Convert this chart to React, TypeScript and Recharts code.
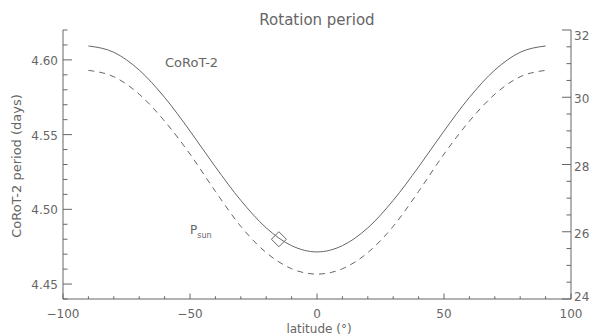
import React from 'react';
import { ComposedChart, Line, Scatter, XAxis, YAxis } from 'recharts';

// Latitude grid (degrees)
const LAT = [-90, -80, -70, -60, -50, -40, -30, -20, -10, 0, 10, 20, 30, 40, 50, 60, 70, 80, 90];
// CoRoT-2 rotation period (days, left axis) – solid line
const COROT_PERIOD = [4.6093, 4.6051, 4.5932, 4.5749, 4.5524, 4.5284, 4.506, 4.4876, 4.4757, 4.4715, 4.4757, 4.4876, 4.506, 4.5284, 4.5524, 4.5749, 4.5932, 4.6051, 4.6093];
// Solar rotation period (days, right axis) – dashed line
const SUN_PERIOD = [30.8, 30.61, 30.09, 29.29, 28.31, 27.2, 26.16, 25.38, 24.9, 24.74, 24.9, 25.38, 26.16, 27.2, 28.31, 29.29, 30.09, 30.61, 30.8];
// Marked point (diamond)
const MARK_LAT = [-15];
const MARK_PERIOD = [4.48];

// Ticks
const X_TICKS = [-100, -90, -80, -70, -60, -50, -40, -30, -20, -10, 0, 10, 20, 30, 40, 50, 60, 70, 80, 90, 100];
const X_LABELS = [-100, -50, 0, 50, 100];
const YL_TICKS = [4.44, 4.45, 4.46, 4.47, 4.48, 4.49, 4.5, 4.51, 4.52, 4.53, 4.54, 4.55, 4.56, 4.57, 4.58, 4.59, 4.6, 4.61, 4.62];
const YL_LABELS = [4.45, 4.5, 4.55, 4.6];
const YR_TICKS = [24, 24.5, 25, 25.5, 26, 26.5, 27, 27.5, 28, 28.5, 29, 29.5, 30, 30.5, 31, 31.5, 32];
const YR_LABELS = [24, 26, 28, 30, 32];

const data = LAT.map((lat, i) => ({ lat, corot: COROT_PERIOD[i], sun: SUN_PERIOD[i] }));
const markData = MARK_LAT.map((lat, i) => ({ lat, p: MARK_PERIOD[i] }));

const AXIS = '#666';
const TXT = '#666';
const LINE = '#666';
const FONT = '"DejaVu Sans", sans-serif';

const isMajor = (v: number, list: number[]) => list.some((m) => Math.abs(m - v) < 1e-6);
const fmt = (v: number) => (v < 0 ? '\u2212' + String(Math.abs(v)) : String(v));

const BottomTick = (props: any) => {
  const { x, y, payload } = props;
  const major = isMajor(payload.value, X_LABELS);
  return (
    <g>
      <line x1={x} x2={x} y1={y} y2={y - (major ? 5.5 : 2.75)} stroke={AXIS} strokeWidth={1} />
      {major && (
        <text x={x} y={y + 19} textAnchor="middle" fill={TXT} fontSize={12} fontFamily={FONT}>
          {fmt(payload.value)}
        </text>
      )}
    </g>
  );
};

const TopTick = (props: any) => {
  const { x, y, payload } = props;
  const major = isMajor(payload.value, X_LABELS);
  return <line x1={x} x2={x} y1={y} y2={y + (major ? 5.5 : 2.75)} stroke={AXIS} strokeWidth={1} />;
};

const LeftTick = (props: any) => {
  const { x, y, payload } = props;
  const major = isMajor(payload.value, YL_LABELS);
  return (
    <g>
      <line x1={x} x2={x + (major ? 9 : 4.5)} y1={y} y2={y} stroke={AXIS} strokeWidth={1} />
      {major && (
        <text x={x - 5} y={y + 5} textAnchor="end" fill={TXT} fontSize={12} fontFamily={FONT}>
          {payload.value.toFixed(2)}
        </text>
      )}
    </g>
  );
};

const RightTick = (props: any) => {
  const { x, y, payload } = props;
  const major = isMajor(payload.value, YR_LABELS);
  const ty = Math.max(y + 6, 40);
  return (
    <g>
      <line x1={x} x2={x - (major ? 9 : 4.5)} y1={y} y2={y} stroke={AXIS} strokeWidth={1} />
      {major && (
        <text x={x + 3} y={Math.min(ty, 301)} textAnchor="start" fill={TXT} fontSize={12} fontFamily={FONT}>
          {String(payload.value)}
        </text>
      )}
    </g>
  );
};

const Diamond = (props: any) => {
  const { cx, cy } = props;
  const r = 7.5;
  return (
    <polygon
      points={`${cx - r},${cy} ${cx},${cy - r} ${cx + r},${cy} ${cx},${cy + r}`}
      fill="none"
      stroke={LINE}
      strokeWidth={1}
    />
  );
};

export default function App() {
  return (
    <div style={{ position: 'absolute', left: 0, top: 0, width: 589, height: 336, background: '#fff' }}>
      <ComposedChart width={589} height={336} data={data} margin={{ top: 30, right: 0, bottom: 0, left: 0 }}>
        <XAxis
          xAxisId="bottom"
          dataKey="lat"
          type="number"
          domain={[-100, 100]}
          ticks={X_TICKS}
          interval={0}
          allowDataOverflow
          orientation="bottom"
          height={37}
          tickSize={0}
          tickMargin={0}
          tickLine={false}
          axisLine={{ stroke: AXIS }}
          tick={<BottomTick />}
        />
        <XAxis
          xAxisId="top"
          dataKey="lat"
          type="number"
          domain={[-100, 100]}
          ticks={X_TICKS}
          interval={0}
          allowDataOverflow
          orientation="top"
          height={0}
          tickSize={0}
          tickMargin={0}
          tickLine={false}
          axisLine={{ stroke: AXIS }}
          tick={<TopTick />}
        />
        <YAxis
          yAxisId="left"
          type="number"
          domain={[4.44, 4.62]}
          ticks={YL_TICKS}
          interval={0}
          allowDataOverflow
          orientation="left"
          width={63}
          tickSize={0}
          tickMargin={0}
          tickLine={false}
          axisLine={{ stroke: AXIS }}
          tick={<LeftTick />}
        />
        <YAxis
          yAxisId="right"
          type="number"
          domain={[24, 32]}
          ticks={YR_TICKS}
          interval={0}
          allowDataOverflow
          orientation="right"
          width={18}
          tickSize={0}
          tickMargin={0}
          tickLine={false}
          axisLine={{ stroke: AXIS }}
          tick={<RightTick />}
        />
        <Line
          xAxisId="bottom"
          yAxisId="left"
          dataKey="corot"
          type="monotone"
          stroke={LINE}
          strokeWidth={1}
          dot={false}
          isAnimationActive={false}
        />
        <Line
          xAxisId="bottom"
          yAxisId="right"
          dataKey="sun"
          type="monotone"
          stroke={LINE}
          strokeWidth={1}
          strokeDasharray="6 5"
          dot={false}
          isAnimationActive={false}
        />
        <Scatter
          xAxisId="bottom"
          yAxisId="left"
          data={markData}
          dataKey="p"
          shape={<Diamond />}
          isAnimationActive={false}
        />
      </ComposedChart>
      <svg
        width={589}
        height={336}
        style={{ position: 'absolute', left: 0, top: 0, pointerEvents: 'none' }}
        fontFamily={FONT}
      >
        <text x={317} y={25} textAnchor="middle" fill={TXT} fontSize={15}>
          Rotation period
        </text>
        <text x={165} y={67} textAnchor="start" fill={TXT} fontSize={13}>
          CoRoT-2
        </text>
        <text x={190} y={234} textAnchor="start" fill={TXT} fontSize={12}>
          P
          <tspan fontSize={8} dy={4}>
            sun
          </tspan>
        </text>
        <text x={319} y={333} textAnchor="middle" fill={TXT} fontSize={12}>
          latitude (°)
        </text>
        <text
          x={0}
          y={0}
          transform="translate(21,166) rotate(-90)"
          textAnchor="middle"
          fill={TXT}
          fontSize={13}
        >
          CoRoT-2 period (days)
        </text>
      </svg>
    </div>
  );
}
